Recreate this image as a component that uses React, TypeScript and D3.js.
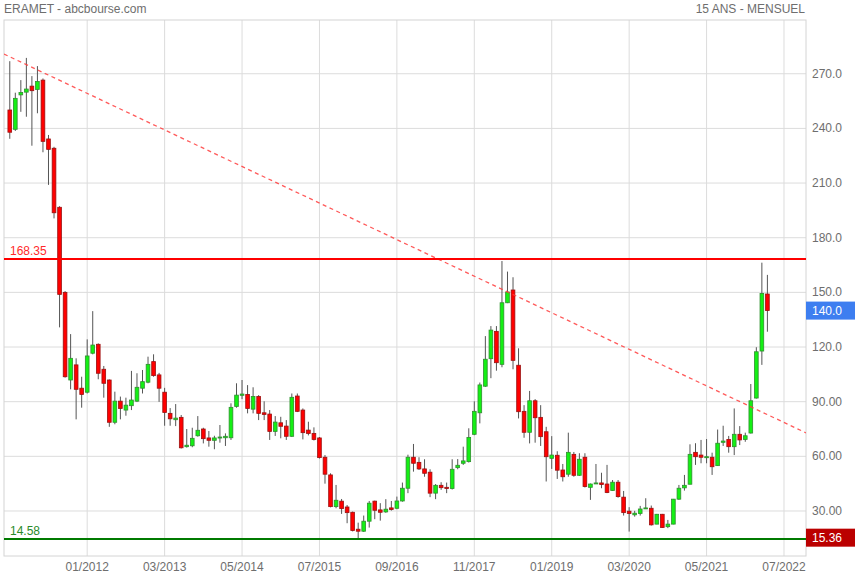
import React from 'react';
import * as d3 from 'd3';

const W = 855;
const H = 580;
const FONT = "'Liberation Sans', Arial, sans-serif";

// monthly candles, the first one is 11/2010
const startYear = 2010;
const startMonth = 11;

const opens = [
  250.1, 239.5, 258.4, 259.9, 263.2, 261.4, 266.5, 234.2, 229.1, 196.7,
  150.0, 101.9, 110.2, 97.4, 95.2, 116.6, 121.5, 107.8, 101.9, 78.7,
  90.3, 85.4, 87.8, 90.3, 97.4, 100.7, 112.0, 104.7, 95.2, 83.6,
  80.1, 81.4, 65.3, 65.8, 71.3, 75.0, 70.1, 68.8, 70.2, 70.2,
  70.2, 87.4, 93.5, 94.0, 85.9, 92.9, 83.9, 83.2, 73.7, 78.4,
  76.6, 71.0, 93.1, 85.4, 74.4, 72.6, 70.1, 59.5, 49.8, 32.4,
  35.4, 32.2, 29.3, 20.0, 18.9, 24.4, 35.4, 30.6, 29.5, 31.7,
  31.5, 35.5, 42.5, 59.5, 56.7, 53.1, 51.3, 39.8, 44.1, 43.0,
  42.3, 53.8, 56.2, 57.1, 72.1, 83.9, 98.5, 113.6, 128.6, 110.5,
  144.3, 151.3, 110.0, 84.7, 73.2, 90.5, 81.4, 73.5, 58.9, 60.6,
  52.5, 50.2, 61.1, 49.6, 59.5, 43.0, 45.0, 45.4, 44.8, 41.2,
  45.8, 37.6, 29.9, 27.9, 28.6, 31.3, 31.5, 22.8, 28.2, 21.4,
  22.8, 36.5, 42.7, 44.7, 62.2, 60.7, 59.5, 59.5, 54.9, 67.7,
  69.3, 65.3, 72.1, 69.3, 72.8, 92.0, 117.8, 149.1,
];
const highs = [
  276.9, 259.6, 266.5, 278.7, 268.7, 274.2, 267.4, 236.4, 229.9, 197.3,
  150.7, 127.1, 113.8, 103.7, 124.2, 139.7, 122.0, 109.6, 102.2, 95.5,
  92.8, 92.2, 106.9, 105.6, 107.4, 114.7, 116.0, 105.8, 97.6, 86.5,
  88.7, 82.7, 75.0, 75.7, 82.1, 75.7, 73.9, 71.3, 77.2, 72.6,
  89.1, 100.1, 101.9, 99.1, 97.9, 93.6, 90.2, 85.4, 82.1, 81.7,
  79.9, 94.5, 94.5, 86.3, 79.0, 75.9, 70.6, 60.7, 50.7, 44.3,
  36.6, 33.3, 29.7, 23.6, 27.5, 35.5, 35.7, 34.3, 36.5, 35.5,
  37.9, 45.6, 60.9, 66.8, 59.5, 58.4, 52.9, 44.8, 45.8, 45.6,
  58.4, 58.5, 65.3, 75.4, 90.2, 100.5, 126.0, 131.5, 131.5, 167.2,
  161.4, 158.3, 119.3, 88.1, 95.9, 91.4, 88.1, 76.2, 71.1, 62.8,
  55.8, 73.0, 62.4, 61.7, 61.7, 45.1, 55.8, 51.0, 55.3, 47.0,
  47.0, 41.0, 32.1, 30.1, 32.8, 37.0, 33.0, 28.4, 28.4, 25.1,
  36.6, 44.3, 49.8, 66.6, 67.2, 69.0, 69.5, 62.0, 74.7, 76.8,
  71.2, 86.3, 76.6, 73.0, 99.7, 119.9, 166.3, 159.6,
];
const lows = [
  234.3, 238.6, 249.1, 246.4, 230.5, 248.3, 226.9, 209.0, 190.6, 130.8,
  103.2, 96.8, 80.3, 86.7, 94.5, 116.0, 102.3, 92.2, 76.2, 77.6,
  80.3, 82.3, 85.4, 89.8, 94.5, 100.1, 103.7, 89.9, 76.8, 76.8,
  76.6, 64.3, 64.8, 65.0, 70.8, 67.1, 65.3, 63.9, 67.5, 65.7,
  69.0, 86.7, 91.4, 83.6, 83.6, 79.9, 79.9, 69.0, 71.2, 69.9,
  69.0, 70.6, 84.3, 69.3, 71.5, 68.7, 58.8, 45.0, 32.0, 31.5,
  28.4, 23.3, 18.8, 14.58, 18.5, 20.9, 25.5, 24.7, 29.0, 30.2,
  31.0, 35.1, 39.8, 51.6, 52.5, 48.8, 37.6, 36.5, 41.6, 39.8,
  41.8, 52.9, 55.3, 56.6, 71.6, 78.1, 98.1, 102.9, 107.0, 108.9,
  144.1, 107.8, 80.8, 70.2, 67.1, 67.5, 65.7, 46.2, 53.1, 47.6,
  46.2, 48.8, 48.8, 49.2, 42.9, 36.1, 44.8, 42.5, 39.8, 41.0,
  37.3, 27.5, 18.7, 26.9, 27.5, 31.1, 22.0, 22.7, 20.7, 20.6,
  22.7, 36.1, 41.2, 44.6, 55.3, 56.2, 56.2, 49.8, 54.7, 65.7,
  62.0, 60.7, 66.2, 68.0, 72.5, 91.7, 110.2, 128.4,
];
const closes = [
  237.9, 256.5, 259.7, 261.6, 260.7, 265.8, 232.9, 228.5, 193.7, 148.9,
  103.7, 113.8, 96.8, 94.0, 115.1, 121.1, 105.6, 100.1, 78.7, 90.3,
  86.3, 88.1, 90.9, 97.9, 101.0, 110.5, 104.3, 97.4, 84.1, 80.6,
  81.0, 64.7, 66.1, 69.9, 74.3, 69.7, 68.8, 70.1, 70.6, 71.0,
  86.9, 93.6, 94.2, 86.3, 92.9, 83.6, 83.0, 73.7, 78.8, 76.5,
  71.0, 92.4, 84.7, 73.0, 72.6, 69.3, 59.3, 50.2, 32.4, 35.9,
  31.3, 29.1, 19.3, 18.9, 24.4, 34.3, 30.4, 29.3, 31.0, 30.8,
  35.5, 42.5, 59.5, 56.2, 53.1, 50.7, 39.8, 44.1, 42.8, 42.3,
  52.9, 55.1, 57.5, 70.4, 84.7, 99.2, 113.3, 129.3, 111.4, 144.3,
  150.2, 112.7, 84.5, 73.2, 90.5, 81.2, 70.8, 59.8, 60.7, 52.4,
  48.8, 62.2, 49.6, 58.4, 43.4, 44.8, 45.4, 44.5, 40.1, 45.8,
  37.9, 29.1, 28.6, 28.8, 31.1, 31.7, 22.4, 28.2, 20.9, 22.8,
  36.5, 42.5, 44.1, 61.1, 59.8, 59.5, 59.8, 54.3, 67.2, 68.4,
  65.3, 72.1, 69.0, 71.3, 90.5, 117.4, 149.4, 140.0,
];

const xTickLabels = ['01/2012', '03/2013', '05/2014', '07/2015', '09/2016', '11/2017', '01/2019', '03/2020', '05/2021', '07/2022'];
const yTicks = [30, 60, 90, 120, 150, 180, 210, 240, 270];
const yTickLabels = ['30.00', '60.00', '90.00', '120.0', '150.0', '180.0', '210.0', '240.0', '270.0'];

const resistance = 168.35;
const support = 14.58;
const lastPrice = 140.0;
const markerValue = 15.36;
const trendPoints = [
  { month: '11/2010', value: 279.3 },
  { month: '04/2022', value: 82.9 },
];

const monthIndex = (label: string) => {
  const [m, y] = label.split('/').map(Number);
  return (y - startYear) * 12 + (m - startMonth);
};

const plot = { left: 4, right: 806, top: 20, bottom: 556 };

const App: React.FC = () => {
  const x = d3.scaleLinear().domain([-1.045, 143.98]).range([plot.left, plot.right]);
  const y = d3.scaleLinear().domain([5.3, 299.5]).range([plot.bottom, plot.top]);

  const candles = opens.map((o, i) => ({ i, o, h: highs[i], l: lows[i], c: closes[i] }));
  const bodyW = 3.7;

  // trend line extended to the plot edges
  const t0 = monthIndex(trendPoints[0].month);
  const t1 = monthIndex(trendPoints[1].month);
  const slope = (trendPoints[1].value - trendPoints[0].value) / (t1 - t0);
  const [d0, d1] = x.domain();
  const trendLine = d3.line<number>()
    .x(d => x(d))
    .y(d => y(trendPoints[0].value + slope * (d - t0)));

  const textColor = '#6e6e6e';

  return (
    <div style={{ position: 'fixed', left: 0, top: 0 }}>
      <svg width={W} height={H} style={{ display: 'block', fontFamily: FONT }}>
        <defs>
          <clipPath id="plotClip">
            <rect x={plot.left} y={plot.top} width={plot.right - plot.left} height={plot.bottom - plot.top} />
          </clipPath>
        </defs>
        <rect width={W} height={H} fill="#fff" />

        <text x={4} y={13} fontSize={12} fill={textColor}>ERAMET - abcbourse.com</text>
        <text x={805} y={13} fontSize={12} fill={textColor} textAnchor="end">15 ANS - MENSUEL</text>

        {/* grid */}
        {yTicks.map(v => (
          <line key={'gy' + v} x1={plot.left} x2={plot.right} y1={y(v)} y2={y(v)} stroke="#dcdcdc" strokeWidth={1} />
        ))}
        {xTickLabels.map(lb => (
          <line key={'gx' + lb} x1={x(monthIndex(lb))} x2={x(monthIndex(lb))} y1={plot.top} y2={plot.bottom} stroke="#dcdcdc" strokeWidth={1} />
        ))}
        <rect x={plot.left} y={plot.top} width={plot.right - plot.left} height={plot.bottom - plot.top}
          fill="none" stroke="#d4d4d4" strokeWidth={1} />

        {/* candles */}
        <g clipPath="url(#plotClip)">
          {candles.map(d => {
            const up = d.c >= d.o;
            const top = y(Math.max(d.o, d.c));
            const bot = y(Math.min(d.o, d.c));
            const cx = x(d.i);
            return (
              <g key={d.i}>
                <line x1={cx} x2={cx} y1={y(d.h)} y2={y(d.l)} stroke="#555" strokeWidth={1} />
                <rect x={cx - bodyW / 2} y={top} width={bodyW} height={Math.max(bot - top, 1)}
                  fill={up ? '#14f014' : '#ff0000'} stroke={up ? '#2f8f2f' : '#9a1010'} strokeWidth={0.8} />
              </g>
            );
          })}

          <path d={trendLine([d0, d1]) || ''} fill="none" stroke="#ff3c3c" strokeOpacity={0.85}
            strokeWidth={1.3} strokeDasharray="4,3.5" />

          <line x1={plot.left} x2={plot.right} y1={y(resistance)} y2={y(resistance)} stroke="#ff0000" strokeWidth={2} />
          <line x1={plot.left} x2={plot.right} y1={y(support)} y2={y(support)} stroke="#007a00" strokeWidth={2} />
        </g>

        <text x={10} y={y(resistance) - 4} fontSize={12} fill="#ff2a2a">{resistance.toFixed(2)}</text>
        <text x={10} y={y(support) - 4} fontSize={12} fill="#2a8a2a">{support.toFixed(2)}</text>

        {/* right axis */}
        {yTicks.map((v, k) => (
          <text key={'yl' + v} x={812} y={y(v) + 4} fontSize={12} fill={textColor}>{yTickLabels[k]}</text>
        ))}
        <rect x={806} y={y(lastPrice) - 9} width={W - 806} height={18} fill="#3d7ef0" />
        <text x={812} y={y(lastPrice) + 4.5} fontSize={12} fill="#fff">{lastPrice.toFixed(1)}</text>
        <rect x={806} y={y(markerValue) - 9} width={W - 806} height={18} fill="#bb0000" />
        <text x={812} y={y(markerValue) + 4.5} fontSize={12} fill="#fff">{markerValue.toFixed(2)}</text>

        {/* bottom axis */}
        {xTickLabels.map(lb => (
          <text key={'xl' + lb} x={x(monthIndex(lb))} y={571} fontSize={12} fill={textColor} textAnchor="middle">{lb}</text>
        ))}
      </svg>
    </div>
  );
};

export default App;
